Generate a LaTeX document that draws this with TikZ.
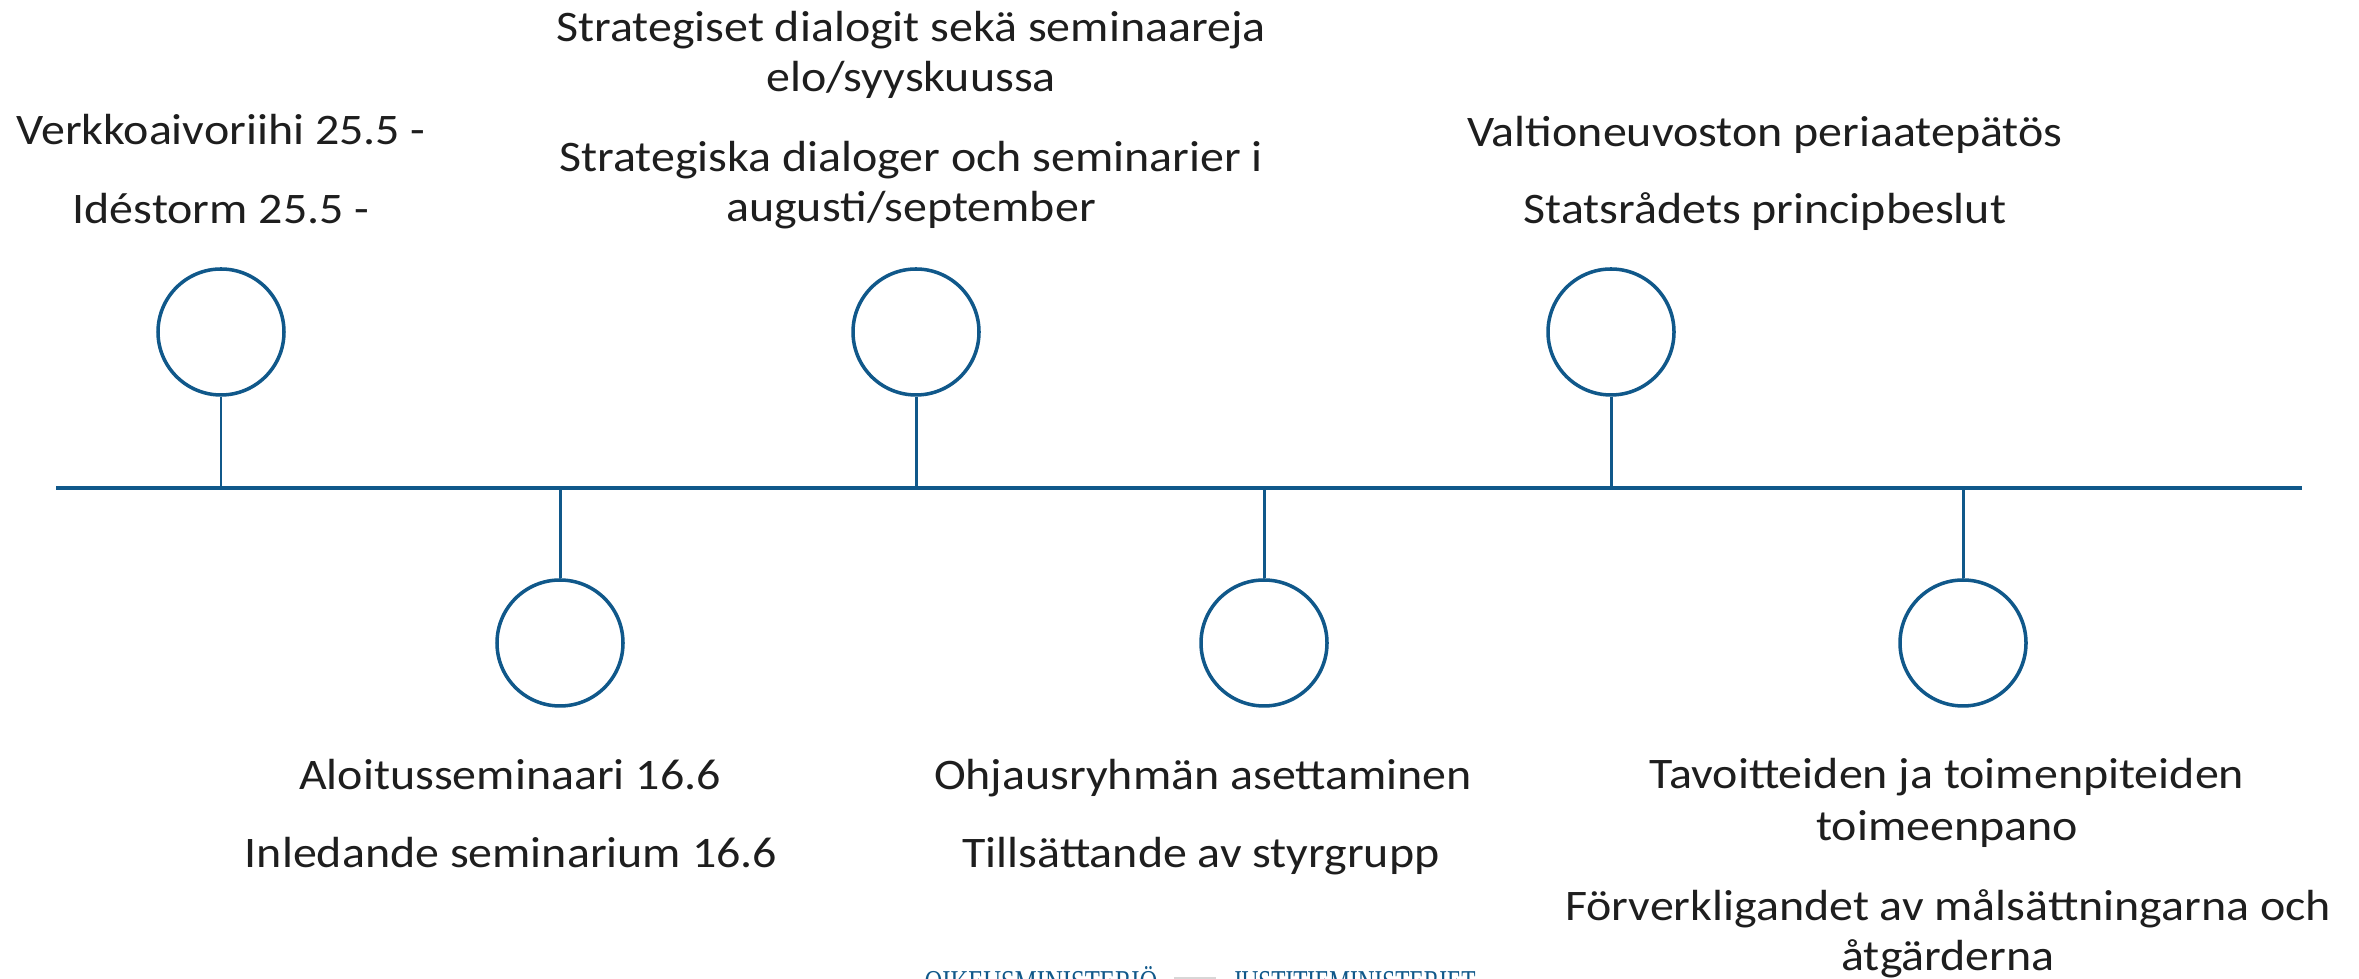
\documentclass[tikz,border=0pt]{standalone}
\usepackage{fontspec}
\setmainfont{Carlito}[FakeStretch=1.1]
\newfontfamily\logofont{Liberation Serif}
\definecolor{tlblue}{RGB}{16,88,138}
\definecolor{txt}{RGB}{30,30,30}
\definecolor{dashgray}{RGB}{215,215,215}
\begin{document}
\begin{tikzpicture}[x=0.1mm,y=-0.1mm,
  event/.style={circle,draw=tlblue,line width=1pt,minimum size=12.6mm,inner sep=0pt},
  stem/.style={draw=tlblue,line width=0.85pt},
  axis/.style={draw=tlblue,line width=0.95pt},
  lbl/.style={anchor=base,inner sep=0pt,text=txt,font=\fontsize{12.4pt}{15pt}\selectfont},
  logo/.style={anchor=base,inner sep=0pt,text=tlblue,font=\logofont\fontsize{9.5pt}{11pt}\selectfont}]
\useasboundingbox (0,0) rectangle (2359,979);
\clip (0,0) rectangle (2359,979);
% axis
\coordinate (L) at (56,488);
\coordinate (R) at (2302,488);
\draw[axis] (L) -- (R);
% events
\node[event] (c1) at (221,332) {};
\node[event] (c2) at (560,643) {};
\node[event] (c3) at (916,332) {};
\node[event] (c4) at (1264,643) {};
\node[event] (c5) at (1611,332) {};
\node[event] (c6) at (1963,643) {};
\draw[stem] (c1.south) -- (c1.south |- L);
\draw[stem] (c3.south) -- (c3.south |- L);
\draw[stem] (c5.south) -- (c5.south |- L);
\draw[stem] (c2.north) -- (c2.north |- L);
\draw[stem] (c4.north) -- (c4.north |- L);
\draw[stem] (c6.north) -- (c6.north |- L);
% top labels
\node[lbl] (t1a) at (221,145) {Verkkoaivoriihi 25.5 -};
\node[lbl] (t1b) at (221,224) {Idéstorm 25.5 -};
\node[lbl] (t3a) at (911,42) {Strategiset dialogit sekä seminaareja};
\node[lbl] (t3b) at (911,92) {elo/syyskuussa};
\node[lbl] (t3c) at (911,172) {Strategiska dialoger och seminarier i};
\node[lbl] (t3d) at (911,222) {augusti/september};
\node[lbl] (t5a) at (1765,147) {Valtioneuvoston periaatepätös};
\node[lbl] (t5b) at (1765,224) {Statsrådets principbeslut};
% bottom labels
\node[lbl] (t2a) at (510,790) {Aloitusseminaari 16.6};
\node[lbl] (t2b) at (511,868) {Inledande seminarium 16.6};
\node[lbl] (t4a) at (1203,790) {Ohjausryhmän asettaminen};
\node[lbl] (t4b) at (1201,868) {Tillsättande av styrgrupp};
\node[lbl] (t6a) at (1947,789) {Tavoitteiden ja toimenpiteiden};
\node[lbl] (t6b) at (1947,841) {toimeenpano};
\node[lbl] (t6c) at (1948,921) {Förverkligandet av målsättningarna och};
\node[lbl] (t6d) at (1948,971) {åtgärderna};
% logo (cut off at the bottom edge, as in the reference)
\node[logo] (lg1) at (1041,994) {\resizebox{23.3mm}{\height}{OIKEUSMINISTERIÖ}};
\node[logo] (lg2) at (1354,994) {\resizebox{24.3mm}{\height}{JUSTITIEMINISTERIET}};
\coordinate (d1) at (1174,978);
\coordinate (d2) at (1216,978);
\draw[dashgray,line width=0.6pt] (d1) -- (d2);
\end{tikzpicture}
\end{document}
